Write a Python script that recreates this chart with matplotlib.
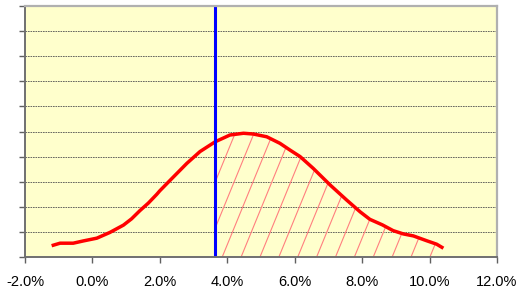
import numpy as np
import matplotlib
matplotlib.use('Agg')
import matplotlib.pyplot as plt
from matplotlib.ticker import FuncFormatter

plt.rcParams['font.family'] = ['Liberation Sans', 'DejaVu Sans']

# distribution curve (return in %, relative frequency)
returns = [-1.21, -0.96, -0.57, -0.27, 0.13, 0.52, 0.92, 1.16, 1.41, 1.66,
           1.91, 2.00, 2.30, 2.80, 3.19, 3.64, 4.08, 4.48, 4.77, 5.17,
           5.56, 5.86, 6.16, 6.55, 7.05, 7.54, 7.94, 8.23, 8.60, 8.92,
           9.22, 9.52, 9.91, 10.21, 10.41]
freq = [0.45, 0.55, 0.55, 0.64, 0.75, 0.98, 1.27, 1.52, 1.85, 2.15,
        2.50, 2.64, 3.05, 3.73, 4.20, 4.59, 4.86, 4.93, 4.90, 4.79,
        4.53, 4.26, 4.00, 3.53, 2.87, 2.27, 1.80, 1.50, 1.28, 1.05,
        0.92, 0.84, 0.65, 0.51, 0.35]

# threshold marker
threshold = 3.64

x_ticks = [-2, 0, 2, 4, 6, 8, 10, 12]
y_grid = list(range(0, 11))

returns = np.array(returns)
freq = np.array(freq)

fig = plt.figure(figsize=(5.2, 2.94), dpi=100)
ax = fig.add_axes([25 / 520, 37 / 294, 472 / 520, 251 / 294])
ax.set_facecolor('#FFFFCC')

ax.set_xlim(-2, 12)
ax.set_ylim(0, 10)
ax.set_xticks(x_ticks)
ax.xaxis.set_major_formatter(FuncFormatter(lambda v, p: f'{v:.1f}%'))
ax.set_yticks(y_grid)
ax.set_yticklabels([])
ax.grid(axis='y', color='#505050', linestyle=(0, (2, 1)), linewidth=0.6)
ax.set_axisbelow(True)

ax.tick_params(axis='x', direction='out', length=4, width=1, color='#606060',
               labelsize=10.5, pad=9)
ax.tick_params(axis='y', direction='out', length=4, width=1, color='#606060')

for s in ['left', 'bottom']:
    ax.spines[s].set_color('#707070')
    ax.spines[s].set_linewidth(1.4)
for s in ['top', 'right']:
    ax.spines[s].set_color('#B0B0B0')
    ax.spines[s].set_linewidth(1.6)

# hatched tail area right of the threshold
mask = returns >= threshold
xs = np.concatenate([[threshold], returns[mask]])
ys = np.concatenate([[np.interp(threshold, returns, freq)], freq[mask]])
poly = ax.fill_between(xs, 0, ys, facecolor='none', edgecolor='none')
clip = poly.get_paths()[0]
step = 0.56
slope = 0.305  # x shift per y unit
for x0 in np.arange(3.85 - 10 * step, 11, step):
    ln, = ax.plot([x0, x0 + slope * 10], [0, 10], color='#FF7F7F', lw=0.8)
    ln.set_clip_path(clip, ax.transData)

ax.plot(returns, freq, color='#FF0000', lw=2.5, solid_capstyle='butt')
ax.axvline(threshold, color='#0000FF', lw=2.2)

fig.savefig('out.png', dpi=100)
